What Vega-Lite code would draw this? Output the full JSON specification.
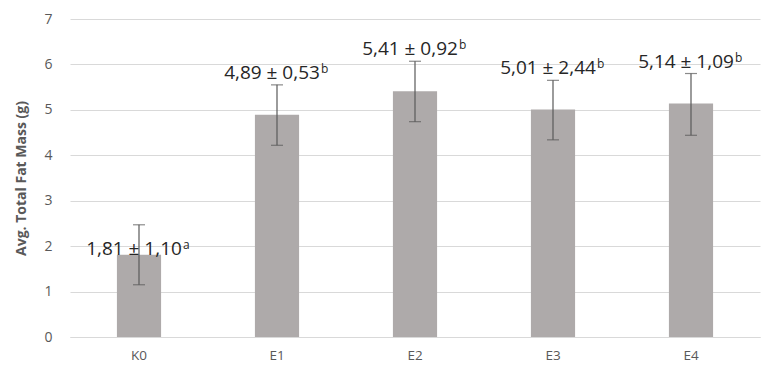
{
  "$schema": "https://vega.github.io/schema/vega-lite/v6.json",
  "autosize": {"type": "none"},
  "padding": {"left": 70, "top": 19, "right": 1, "bottom": 35},
  "width": 690,
  "height": 318,
  "background": "white",
  "config": {"view": {"stroke": null}, "font": "Open Sans"},
  "data": {"values": [
    {"group": "K0", "mean": 1.81, "lower": 1.15, "upper": 2.47, "label": "1,81 ± 1,10", "sig": "a"},
    {"group": "E1", "mean": 4.89, "lower": 4.22, "upper": 5.55, "label": "4,89 ± 0,53", "sig": "b"},
    {"group": "E2", "mean": 5.41, "lower": 4.74, "upper": 6.07, "label": "5,41 ± 0,92", "sig": "b"},
    {"group": "E3", "mean": 5.01, "lower": 4.34, "upper": 5.65, "label": "5,01 ± 2,44", "sig": "b"},
    {"group": "E4", "mean": 5.14, "lower": 4.44, "upper": 5.80, "label": "5,14 ± 1,09", "sig": "b"}
  ]},
  "encoding": {
    "x": {"field": "group", "type": "nominal", "sort": null,
      "scale": {"paddingInner": 0.68, "paddingOuter": 0.34},
      "axis": {"title": null, "labelAngle": 0, "labelColor": "#595959", "labelFontSize": 13.5,
        "labelPadding": 11, "ticks": false, "domainColor": "#d9d9d9", "domainWidth": 1}}
  },
  "layer": [
    {"mark": {"type": "bar", "color": "#aeaaaa"},
     "encoding": {"y": {"field": "mean", "type": "quantitative",
       "scale": {"domain": [0, 7]},
       "axis": {"values": [0,1,2,3,4,5,6,7], "title": "Avg.  Total Fat Mass (g)", "titleColor": "#595959",
         "titleFontSize": 14, "titleFontWeight": "bold", "titlePadding": 15, "labelColor": "#595959", "labelFontSize": 14,
         "labelPadding": 18, "ticks": false, "domain": false, "gridColor": "#d9d9d9", "gridWidth": 1}}}},
    {"mark": {"type": "rule", "color": "#595959", "strokeWidth": 1.2},
     "encoding": {"y": {"field": "lower", "type": "quantitative"}, "y2": {"field": "upper"}}},
    {"mark": {"type": "tick", "color": "#595959", "orient": "horizontal", "size": 12, "thickness": 1.2},
     "encoding": {"y": {"field": "lower", "type": "quantitative"}}},
    {"mark": {"type": "tick", "color": "#595959", "orient": "horizontal", "size": 12, "thickness": 1.2},
     "encoding": {"y": {"field": "upper", "type": "quantitative"}}},
    {"transform": [{"filter": "datum.group !== 'K0'"}],
     "mark": {"type": "text", "baseline": "alphabetic", "align": "center", "dx": -5, "dy": -6, "fontSize": 19, "color": "#262626"},
     "encoding": {"y": {"field": "upper", "type": "quantitative"}, "text": {"field": "label"}}},
    {"transform": [{"filter": "datum.group !== 'K0'"}],
     "mark": {"type": "text", "baseline": "alphabetic", "align": "left", "dx": 44, "dy": -12, "fontSize": 12, "color": "#262626"},
     "encoding": {"y": {"field": "upper", "type": "quantitative"}, "text": {"field": "sig"}}},
    {"transform": [{"filter": "datum.group === 'K0'"}],
     "mark": {"type": "text", "baseline": "alphabetic", "align": "center", "dx": -5, "dy": 30, "fontSize": 19, "color": "#262626"},
     "encoding": {"y": {"field": "upper", "type": "quantitative"}, "text": {"field": "label"}}},
    {"transform": [{"filter": "datum.group === 'K0'"}],
     "mark": {"type": "text", "baseline": "alphabetic", "align": "left", "dx": 44, "dy": 24, "fontSize": 12, "color": "#262626"},
     "encoding": {"y": {"field": "upper", "type": "quantitative"}, "text": {"field": "sig"}}}
  ]
}
